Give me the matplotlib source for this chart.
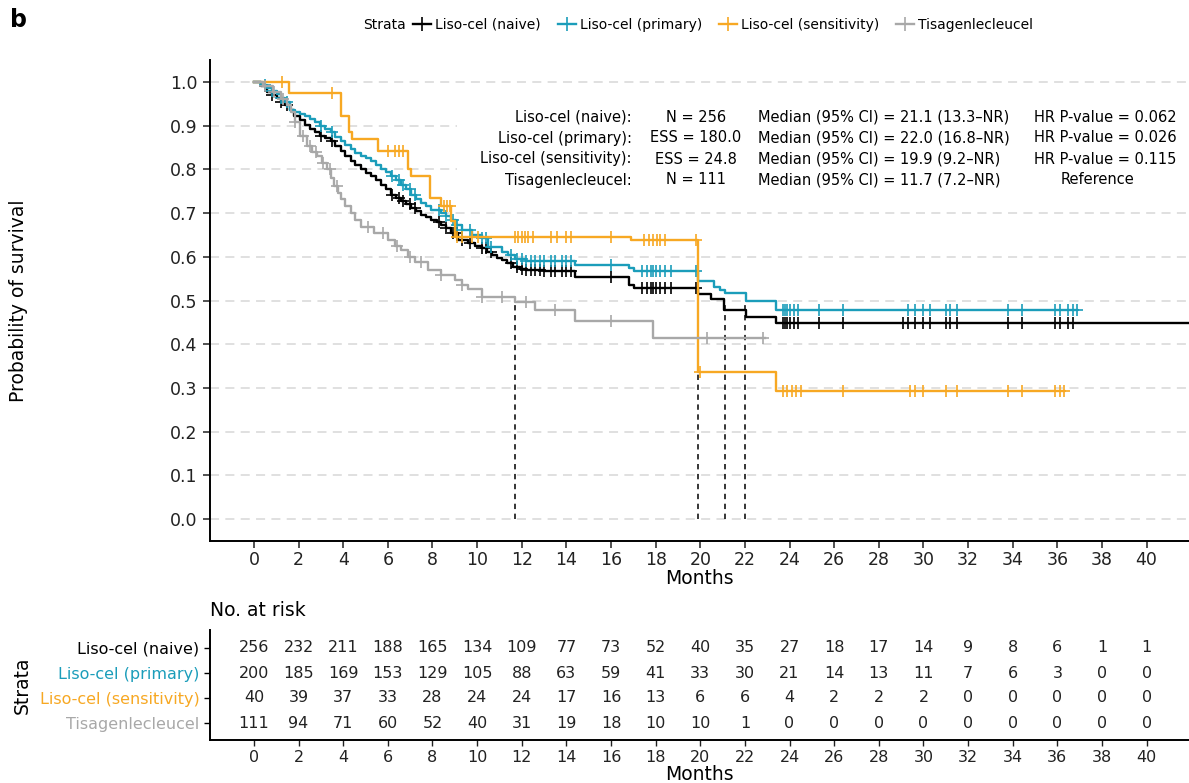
import numpy as np
import matplotlib
matplotlib.use('Agg')
import matplotlib.pyplot as plt
from matplotlib.lines import Line2D
from matplotlib.patches import Rectangle

# Kaplan-Meier step curves (time in months, survival)
naive_t = [0, 0.3, 0.57, 0.8, 1.02, 1.2, 1.4, 1.6, 1.78, 2.08, 2.3, 2.53, 2.75, 2.98, 3.2, 3.43, 3.65,
           3.88, 4.1, 4.33, 4.55, 4.78, 5.0, 5.24, 5.45, 5.69, 5.9, 6.14, 6.35, 6.59, 6.8, 7.04, 7.25,
           7.5, 7.7, 7.95, 8.2, 8.4, 8.6, 8.85, 9.15, 9.6, 9.9, 10.2, 10.45, 10.65, 10.9, 11.1, 11.35,
           11.6, 11.9, 12.2, 13.0, 14.4, 16.8, 17.05, 19.9, 20.5, 21.05, 22.05, 23.4, 42.5]
naive_s = [1.0, 0.99, 0.977, 0.97, 0.962, 0.955, 0.946, 0.935, 0.923, 0.912, 0.902, 0.892, 0.885, 0.877,
           0.871, 0.865, 0.854, 0.842, 0.831, 0.819, 0.81, 0.80, 0.792, 0.785, 0.775, 0.765, 0.754,
           0.742, 0.735, 0.727, 0.72, 0.712, 0.704, 0.696, 0.69, 0.685, 0.679, 0.673, 0.665, 0.654,
           0.638, 0.631, 0.625, 0.619, 0.61, 0.604, 0.598, 0.592, 0.585, 0.577, 0.572, 0.569, 0.567,
           0.554, 0.536, 0.528, 0.515, 0.503, 0.478, 0.463, 0.448, 0.448]

primary_t = [0, 0.3, 0.57, 0.8, 1.02, 1.2, 1.4, 1.63, 1.85, 2.08, 2.3, 2.53, 2.75, 2.98, 3.2, 3.43, 3.65,
             3.88, 4.1, 4.33, 4.55, 4.78, 5.0, 5.24, 5.45, 5.69, 5.9, 6.14, 6.35, 6.59, 6.8, 7.04, 7.25,
             7.5, 7.7, 7.95, 8.4, 8.6, 8.85, 9.05, 9.3, 9.75, 10.2, 10.5, 11.1, 11.4, 11.7, 12.2, 14.4,
             16.8, 17.05, 19.9, 20.6, 20.9, 21.1, 22.05, 23.4, 36.9]
primary_s = [1.0, 0.992, 0.985, 0.979, 0.973, 0.964, 0.954, 0.935, 0.931, 0.927, 0.921, 0.915, 0.908,
             0.90, 0.893, 0.885, 0.875, 0.865, 0.855, 0.846, 0.838, 0.831, 0.825, 0.819, 0.81, 0.80,
             0.793, 0.785, 0.775, 0.765, 0.754, 0.742, 0.733, 0.723, 0.715, 0.708, 0.70, 0.693, 0.685,
             0.673, 0.662, 0.65, 0.642, 0.623, 0.612, 0.604, 0.596, 0.59, 0.582, 0.575, 0.567, 0.544,
             0.531, 0.525, 0.517, 0.498, 0.478, 0.478]

sens_t = [0, 1.55, 3.88, 4.26, 4.4, 5.54, 6.89, 7.04, 7.87, 8.4, 8.85, 9.0, 16.9, 19.9, 23.4, 36.3]
sens_s = [1.0, 0.975, 0.923, 0.885, 0.869, 0.842, 0.80, 0.785, 0.735, 0.715, 0.681, 0.646, 0.638,
          0.336, 0.292, 0.292]

tisa_t = [0, 0.4, 0.87, 1.2, 1.47, 1.65, 1.85, 2.08, 2.38, 2.6, 2.83, 3.05, 3.28, 3.45, 3.58, 3.75, 3.88,
          4.1, 4.33, 4.55, 4.78, 5.4, 6.0, 6.3, 6.6, 6.9, 7.2, 7.8, 8.4, 9.0, 9.3, 9.6, 10.2, 11.7,
          12.6, 14.4, 17.9, 22.9]
tisa_s = [1.0, 0.99, 0.977, 0.96, 0.946, 0.93, 0.908, 0.877, 0.854, 0.84, 0.831, 0.815, 0.80, 0.78,
          0.762, 0.745, 0.731, 0.715, 0.70, 0.685, 0.669, 0.654, 0.638, 0.625, 0.615, 0.60, 0.588,
          0.569, 0.558, 0.546, 0.536, 0.527, 0.508, 0.497, 0.478, 0.454, 0.415, 0.415]

# censoring times
naive_cens = [0.5, 0.8, 1.2, 1.5, 3.0, 3.5, 6.2, 6.5, 6.7, 7.0, 7.2, 8.3, 8.6, 8.9, 9.1, 9.3, 9.7, 10.2,
              10.4, 10.6, 11.5, 11.8, 12.0, 12.2, 12.4, 12.6, 12.8, 13.0, 13.3, 13.5, 13.8, 14.0, 14.2,
              16.0, 17.4, 17.6, 17.8, 17.9, 18.0, 18.2, 18.4, 18.7, 19.8, 23.7, 23.8, 23.9, 24.0, 24.2,
              24.4, 25.3, 26.4, 29.1, 29.3, 29.6, 30.0, 30.3, 31.0, 31.2, 31.5, 33.8, 34.4, 35.9, 36.1,
              36.5, 36.7]
primary_cens = [c for c in naive_cens if c != 29.1] + [36.9]
sens_cens = [1.25, 3.5, 6.0, 6.3, 6.5, 6.7, 8.5, 8.65, 8.8, 9.1, 9.3, 9.75, 10.05, 11.7, 11.85, 12.0,
             12.15, 12.3, 12.5, 13.3, 13.6, 14.0, 14.2, 16.0, 17.5, 17.7, 17.9, 18.05, 18.2, 18.4, 19.8,
             20.0, 23.7, 23.9, 24.1, 24.3, 24.5, 26.4, 29.4, 29.6, 30.0, 31.0, 31.5, 33.8, 34.4, 35.9,
             36.1, 36.3]
tisa_cens = [0.5, 0.9, 1.3, 1.85, 2.2, 2.5, 2.8, 3.1, 3.4, 3.7, 5.1, 5.8, 6.4, 7.0, 7.5, 8.4, 9.3, 10.2,
             11.1, 12.2, 13.5, 16.0, 20.3, 22.8]

medians = [11.7, 19.9, 21.1, 22.0]

strata = ['Liso-cel (naive)', 'Liso-cel (primary)', 'Liso-cel (sensitivity)', 'Tisagenlecleucel']
colors = ['#000000', '#1B9DBA', '#F7A823', '#A8A8A8']

# summary table
stat_col = ['N = 256', 'ESS = 180.0', 'ESS = 24.8', 'N = 111']
median_col = ['Median (95% CI) = 21.1 (13.3\u2013NR)', 'Median (95% CI) = 22.0 (16.8\u2013NR)',
              'Median (95% CI) = 19.9 (9.2\u2013NR)', 'Median (95% CI) = 11.7 (7.2\u2013NR)']
p_col = ['HR P-value = 0.062', 'HR P-value = 0.026', 'HR P-value = 0.115', 'Reference']

# numbers at risk
risk_times = list(range(0, 41, 2))
risk_naive = [256, 232, 211, 188, 165, 134, 109, 77, 73, 52, 40, 35, 27, 18, 17, 14, 9, 8, 6, 1, 1]
risk_primary = [200, 185, 169, 153, 129, 105, 88, 63, 59, 41, 33, 30, 21, 14, 13, 11, 7, 6, 3, 0, 0]
risk_sens = [40, 39, 37, 33, 28, 24, 24, 17, 16, 13, 6, 6, 4, 2, 2, 2, 0, 0, 0, 0, 0]
risk_tisa = [111, 94, 71, 60, 52, 40, 31, 19, 18, 10, 10, 1, 0, 0, 0, 0, 0, 0, 0, 0, 0]

W, H = 1189, 783
plt.rcParams['font.family'] = 'DejaVu Sans'
fig = plt.figure(figsize=(W / 100, H / 100), dpi=100)

XLIM = (-1.97, 41.9)

# main survival panel
ax = fig.add_axes([210 / W, (H - 541) / H, 979 / W, 481 / H])
curves = [(naive_t, naive_s, naive_cens), (primary_t, primary_s, primary_cens),
          (sens_t, sens_s, sens_cens), (tisa_t, tisa_s, tisa_cens)]
for (t, s, cens), col in zip(curves, colors):
    ax.step(t, s, where='post', color=col, lw=1.7, zorder=3)
    t_arr = np.array(t)
    s_arr = np.array(s)
    idx = np.searchsorted(t_arr, cens, side='right') - 1
    ax.plot(cens, s_arr[idx], ls='none', marker='+', ms=9, mew=1.2, color=col, zorder=3)

ax.vlines(medians, 0, 0.5, colors='black', linestyles=(0, (3.5, 3)), lw=1.1, zorder=2)

ax.set_xlim(*XLIM)
ax.set_ylim(-0.05, 1.05)
ax.set_xticks(np.arange(0, 41, 2))
ax.set_yticks(np.arange(0, 1.01, 0.1))
ax.set_yticklabels([f'{v:.1f}' for v in np.arange(0, 1.01, 0.1)])
ax.set_axisbelow(True)
ax.yaxis.grid(True, color='#DDDDDD', lw=1.3, linestyle=(0, (5, 3.5)))
for side in ['top', 'right']:
    ax.spines[side].set_visible(False)
for side in ['left', 'bottom']:
    ax.spines[side].set_linewidth(1.4)
ax.tick_params(labelsize=12.5, length=5, width=1.1, pad=4, colors='#222222')
ax.tick_params(axis='x', pad=2)
ax.set_xlabel('Months', fontsize=13.5, labelpad=0)
ax.set_ylabel('Probability of survival', fontsize=13.5)
ax.yaxis.set_label_coords(-0.186, 0.5)

# white box behind the summary table
ax.add_patch(Rectangle((0.252, 0.709), 0.75, 0.218, transform=ax.transAxes,
                       facecolor='white', edgecolor='none', zorder=1.5))

rows_y = [117, 138, 159, 180]
for i in range(4):
    y = 1 - rows_y[i] / H
    fig.text(632 / W, y, strata[i] + ':', ha='right', va='center', fontsize=10.5)
    fig.text(696 / W, y, stat_col[i], ha='center', va='center', fontsize=10.5)
    fig.text(758 / W, y, median_col[i], ha='left', va='center', fontsize=10.5)
    if p_col[i] == 'Reference':
        fig.text(1098 / W, y, p_col[i], ha='center', va='center', fontsize=10.5)
    else:
        fig.text(1034 / W, y, p_col[i], ha='left', va='center', fontsize=10.5)

# legend at the top
fig.text(363 / W, 1 - 25 / H, 'Strata', ha='left', va='center', fontsize=10)
handles = [Line2D([], [], color=c, lw=1.7, marker='+', ms=10, mew=1.2) for c in colors]
fig.legend(handles, strata, loc='center left', bbox_to_anchor=(413 / W, 1 - 25 / H), ncol=4,
           frameon=False, fontsize=10, handlelength=1.3, handletextpad=0.3, columnspacing=1.2,
           borderaxespad=0, borderpad=0)

fig.text(10 / W, 1 - 20 / H, 'b', fontsize=17, fontweight='bold', ha='left', va='center')

# risk table
axr = fig.add_axes([210 / W, (H - 740) / H, 979 / W, 110 / H])
risk = [risk_naive, risk_primary, risk_sens, risk_tisa]
for i, row in enumerate(risk):
    for t, n in zip(risk_times, row):
        axr.text(t, i, str(n), ha='center', va='center', fontsize=11.5, color='#222222')
axr.set_xlim(*XLIM)
axr.set_ylim(3.68, -0.72)
axr.set_xticks(risk_times)
axr.set_yticks(range(4))
axr.set_yticklabels(strata)
for lab, c in zip(axr.get_yticklabels(), colors):
    lab.set_color(c)
for side in ['top', 'right']:
    axr.spines[side].set_visible(False)
for side in ['left', 'bottom']:
    axr.spines[side].set_linewidth(1.4)
axr.tick_params(labelsize=11.5, length=4, width=1)
axr.tick_params(axis='x', colors='#222222')
axr.set_xlabel('Months', fontsize=13.5, labelpad=0)
axr.set_ylabel('Strata', fontsize=13.5)
axr.yaxis.set_label_coords(-0.182, 0.5)
axr.set_title('No. at risk', loc='left', fontsize=13.5, pad=10)

plt.savefig('out.png', dpi=100)
